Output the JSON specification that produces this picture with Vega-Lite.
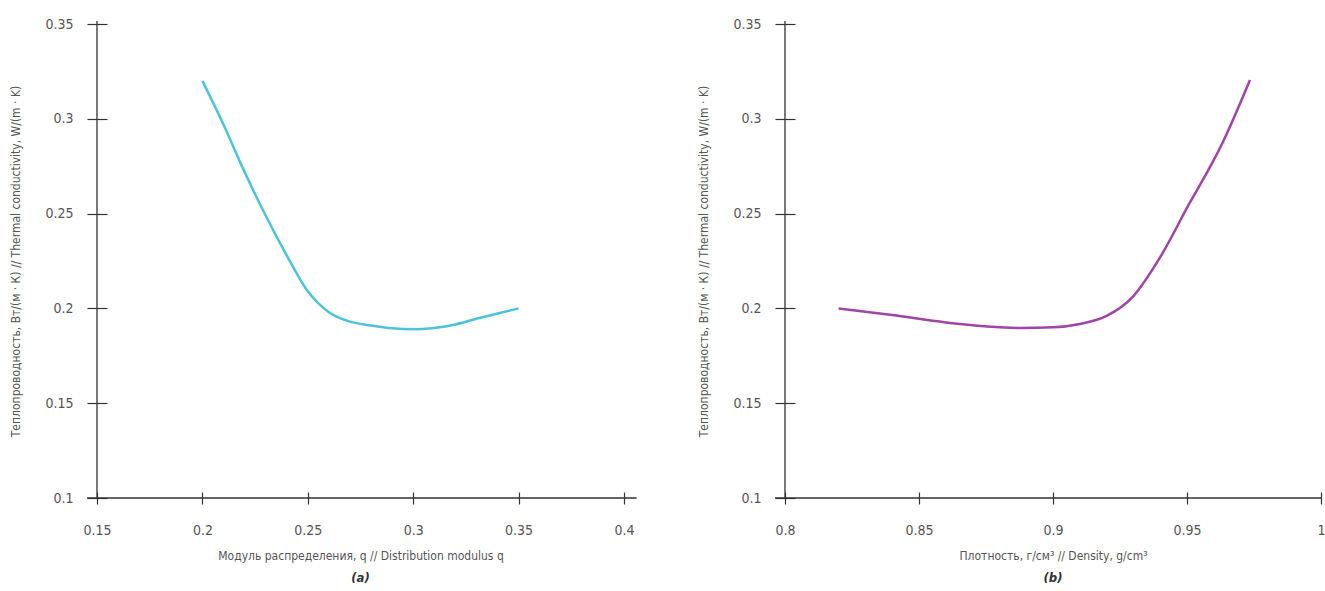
{
  "$schema": "https://vega.github.io/schema/vega-lite/v6.json",
  "padding": {"left": 9, "top": 17, "right": 0, "bottom": 0},
  "background": "white",
  "config": {
    "view": {"stroke": null},
    "font": "DejaVu Sans Condensed, sans-serif",
    "axis": {
      "grid": false,
      "domain": false,
      "tickColor": "#333",
      "tickWidth": 1.2,
      "labelColor": "#555",
      "labelFontSize": 14,
      "labelFont": "DejaVu Sans Condensed, sans-serif",
      "titleColor": "#555",
      "titleFontSize": 12,
      "titleFontWeight": "normal",
      "titleFont": "DejaVu Sans Condensed, sans-serif",
      "format": "~g",
      "labelFlush": false,
      "labelOverlap": false
    },
    "axisX": {"offset": -6, "tickSize": 12, "labelPadding": 19, "titlePadding": 13},
    "axisY": {"offset": -10, "tickSize": 20, "labelPadding": 14, "titlePadding": 22},
    "title": {"orient": "bottom", "anchor": "middle", "fontStyle": "italic", "fontWeight": "bold", "fontSize": 13, "color": "#333", "offset": 11, "font": "DejaVu Sans Condensed, sans-serif"}
  },
  "datasets": {
    "a": [
      {"q": 0.2, "k": 0.32},
      {"q": 0.21, "k": 0.297},
      {"q": 0.22, "k": 0.272},
      {"q": 0.23, "k": 0.249},
      {"q": 0.24, "k": 0.228},
      {"q": 0.25, "k": 0.209},
      {"q": 0.26, "k": 0.198},
      {"q": 0.27, "k": 0.193},
      {"q": 0.28, "k": 0.191},
      {"q": 0.29, "k": 0.1895},
      {"q": 0.3, "k": 0.189},
      {"q": 0.31, "k": 0.1897},
      {"q": 0.32, "k": 0.1915},
      {"q": 0.33, "k": 0.1945},
      {"q": 0.34, "k": 0.1973},
      {"q": 0.35, "k": 0.2}
    ],
    "b": [
      {"d": 0.82, "k": 0.2},
      {"d": 0.84, "k": 0.1965},
      {"d": 0.86, "k": 0.1926},
      {"d": 0.888, "k": 0.1897},
      {"d": 0.9, "k": 0.19},
      {"d": 0.91, "k": 0.1918},
      {"d": 0.92, "k": 0.196},
      {"d": 0.93, "k": 0.2065},
      {"d": 0.94, "k": 0.227},
      {"d": 0.951, "k": 0.2556},
      {"d": 0.9586, "k": 0.2746},
      {"d": 0.9623, "k": 0.2846},
      {"d": 0.9735, "k": 0.3205}
    ]
  },
  "hconcat": [
    {
      "width": 527,
      "height": 474,
      "title": {"text": "(a)"},
      "layer": [
        {
          "data": {"name": "a"},
          "mark": {"type": "line", "interpolate": "monotone", "color": "#4cc3d7", "strokeWidth": 2.5},
          "encoding": {
            "x": {"field": "q", "type": "quantitative", "scale": {"domain": [0.15, 0.4], "nice": false, "zero": false},
                  "axis": {"values": [0.15, 0.2, 0.25, 0.3, 0.35, 0.4], "title": "Модуль распределения, q // Distribution modulus q"}},
            "y": {"field": "k", "type": "quantitative", "scale": {"domain": [0.1, 0.35], "nice": false, "zero": false},
                  "axis": {"values": [0.1, 0.15, 0.2, 0.25, 0.3, 0.35], "title": "Теплопроводность, Вт/(м · К) // Thermal conductivity, W/(m · K)"}}
          }
        },
        {
          "data": {"values": [{}]},
          "mark": {"type": "rule", "clip": false, "color": "#333", "strokeWidth": 1.3},
          "encoding": {"x": {"datum": 0.15}, "y": {"datum": 0.1}, "y2": {"datum": 0.3516}}
        },
        {
          "data": {"values": [{}]},
          "mark": {"type": "rule", "clip": false, "color": "#333", "strokeWidth": 1.3},
          "encoding": {"y": {"datum": 0.1}, "x": {"datum": 0.1453}, "x2": {"datum": 0.406}}
        }
      ]
    },
    {
      "width": 536,
      "height": 474,
      "title": {"text": "(b)"},
      "layer": [
        {
          "data": {"name": "b"},
          "mark": {"type": "line", "interpolate": "monotone", "color": "#a044a6", "strokeWidth": 2.5},
          "encoding": {
            "x": {"field": "d", "type": "quantitative", "scale": {"domain": [0.8, 1.0], "nice": false, "zero": false},
                  "axis": {"values": [0.8, 0.85, 0.9, 0.95, 1.0], "title": "Плотность, г/см³ // Density, g/cm³"}},
            "y": {"field": "k", "type": "quantitative", "scale": {"domain": [0.1, 0.35], "nice": false, "zero": false},
                  "axis": {"values": [0.1, 0.15, 0.2, 0.25, 0.3, 0.35], "title": "Теплопроводность, Вт/(м · К) // Thermal conductivity, W/(m · K)"}}
          }
        },
        {
          "data": {"values": [{}]},
          "mark": {"type": "rule", "clip": false, "color": "#333", "strokeWidth": 1.3},
          "encoding": {"x": {"datum": 0.8}, "y": {"datum": 0.1}, "y2": {"datum": 0.3516}}
        },
        {
          "data": {"values": [{}]},
          "mark": {"type": "rule", "clip": false, "color": "#333", "strokeWidth": 1.3},
          "encoding": {"y": {"datum": 0.1}, "x": {"datum": 0.7963}, "x2": {"datum": 1.0}}
        }
      ]
    }
  ],
  "spacing": 59
}
